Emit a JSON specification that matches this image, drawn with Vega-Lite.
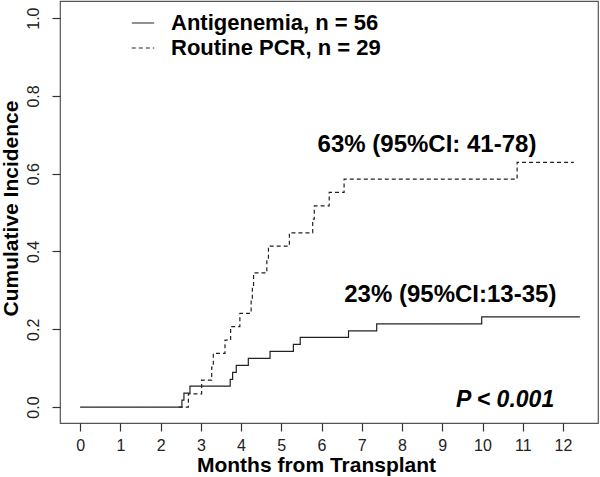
{
  "$schema": "https://vega.github.io/schema/vega-lite/v6.json",
  "width": 538,
  "height": 422,
  "autosize": {"type": "none"},
  "padding": {"left": 60, "top": 1, "right": 2, "bottom": 54},
  "background": "white",
  "config": {
    "view": {"stroke": "#555", "strokeWidth": 1.2},
    "font": "Liberation Sans"
  },
  "datasets": {
    "curves": [
      {"group": "Antigenemia, n = 56", "month": 0, "ci": 0},
      {"group": "Antigenemia, n = 56", "month": 2.53, "ci": 0.018},
      {"group": "Antigenemia, n = 56", "month": 2.58, "ci": 0.036},
      {"group": "Antigenemia, n = 56", "month": 2.73, "ci": 0.054},
      {"group": "Antigenemia, n = 56", "month": 3.73, "ci": 0.071},
      {"group": "Antigenemia, n = 56", "month": 3.79, "ci": 0.089},
      {"group": "Antigenemia, n = 56", "month": 3.88, "ci": 0.107},
      {"group": "Antigenemia, n = 56", "month": 4.18, "ci": 0.125},
      {"group": "Antigenemia, n = 56", "month": 4.72, "ci": 0.143},
      {"group": "Antigenemia, n = 56", "month": 5.30, "ci": 0.161},
      {"group": "Antigenemia, n = 56", "month": 5.47, "ci": 0.179},
      {"group": "Antigenemia, n = 56", "month": 6.67, "ci": 0.196},
      {"group": "Antigenemia, n = 56", "month": 7.37, "ci": 0.214},
      {"group": "Antigenemia, n = 56", "month": 9.98, "ci": 0.232},
      {"group": "Antigenemia, n = 56", "month": 12.42, "ci": 0.232},
      {"group": "Routine PCR, n = 29", "month": 2.45, "ci": 0},
      {"group": "Routine PCR, n = 29", "month": 2.69, "ci": 0.034},
      {"group": "Routine PCR, n = 29", "month": 3.02, "ci": 0.069},
      {"group": "Routine PCR, n = 29", "month": 3.27, "ci": 0.103},
      {"group": "Routine PCR, n = 29", "month": 3.31, "ci": 0.138},
      {"group": "Routine PCR, n = 29", "month": 3.60, "ci": 0.172},
      {"group": "Routine PCR, n = 29", "month": 3.74, "ci": 0.207},
      {"group": "Routine PCR, n = 29", "month": 3.97, "ci": 0.241},
      {"group": "Routine PCR, n = 29", "month": 4.25, "ci": 0.276},
      {"group": "Routine PCR, n = 29", "month": 4.28, "ci": 0.310},
      {"group": "Routine PCR, n = 29", "month": 4.31, "ci": 0.345},
      {"group": "Routine PCR, n = 29", "month": 4.64, "ci": 0.379},
      {"group": "Routine PCR, n = 29", "month": 4.68, "ci": 0.414},
      {"group": "Routine PCR, n = 29", "month": 5.20, "ci": 0.448},
      {"group": "Routine PCR, n = 29", "month": 5.78, "ci": 0.483},
      {"group": "Routine PCR, n = 29", "month": 5.82, "ci": 0.517},
      {"group": "Routine PCR, n = 29", "month": 6.19, "ci": 0.552},
      {"group": "Routine PCR, n = 29", "month": 6.56, "ci": 0.586},
      {"group": "Routine PCR, n = 29", "month": 10.86, "ci": 0.629},
      {"group": "Routine PCR, n = 29", "month": 12.27, "ci": 0.629}
    ],
    "notes": [
      {"label": "63% (95%CI: 41-78)", "month": 8.62, "ci": 0.655},
      {"label": "23% (95%CI:13-35)", "month": 9.2, "ci": 0.27}
    ],
    "pval": [
      {"label": "P < 0.001", "month": 10.56, "ci": 0.0}
    ]
  },
  "layer": [
    {
      "data": {"name": "curves"},
      "mark": {"type": "line", "interpolate": "step-after", "color": "#222", "strokeWidth": 1.2},
      "encoding": {
        "x": {
          "field": "month", "type": "quantitative",
          "scale": {"domain": [-0.5, 12.87], "nice": false, "zero": false},
          "axis": {
            "title": "Months from Transplant",
            "values": [0,1,2,3,4,5,6,7,8,9,10,11,12],
            "domain": false, "grid": false,
            "tickSize": 8, "tickColor": "#333", "tickWidth": 1.2,
            "labelFontSize": 16, "labelColor": "#222", "labelPadding": 6, "labelFlush": false,
            "titleFontSize": 21, "titleFontWeight": "bold", "titleColor": "#000",
            "titleX": 256, "titleY": 42, "titleBaseline": "middle", "titleAlign": "center"
          }
        },
        "y": {
          "field": "ci", "type": "quantitative",
          "scale": {"domain": [-0.041, 1.044], "nice": false, "zero": false},
          "axis": {
            "title": "Cumulative Incidence",
            "values": [0, 0.2, 0.4, 0.6, 0.8, 1.0],
            "format": ".1f",
            "domain": false, "grid": false,
            "tickSize": 8, "tickColor": "#333", "tickWidth": 1.2,
            "labelFontSize": 16, "labelColor": "#222", "labelAngle": -90,
            "labelAlign": "center", "labelBaseline": "alphabetic", "labelPadding": 14,
            "titleFontSize": 21, "titleFontWeight": "bold", "titleColor": "#000",
            "titleAngle": -90, "titleX": -49, "titleY": 207, "titleBaseline": "middle", "titleAlign": "center"
          }
        },
        "strokeDash": {
          "field": "group", "type": "nominal",
          "scale": {"domain": ["Antigenemia, n = 56", "Routine PCR, n = 29"], "range": [[1, 0], [4, 3]]},
          "legend": {
            "title": null,
            "orient": "none", "legendX": 71, "legendY": 10,
            "padding": 0,
            "symbolType": "stroke", "symbolSize": 500, "symbolStrokeWidth": 1.1,
            "symbolStrokeColor": "#222",
            "labelFontSize": 22, "labelFontWeight": "bold", "labelColor": "#000",
            "labelOffset": 16, "rowPadding": 2,
            "labelLimit": 400
          }
        }
      }
    },
    {
      "data": {"name": "notes"},
      "mark": {"type": "text", "fontSize": 24, "fontWeight": "bold", "align": "center", "baseline": "alphabetic", "color": "#000"},
      "encoding": {
        "x": {"field": "month", "type": "quantitative"},
        "y": {"field": "ci", "type": "quantitative"},
        "text": {"field": "label"}
      }
    },
    {
      "data": {"name": "pval"},
      "mark": {"type": "text", "fontSize": 23, "fontWeight": "bold", "fontStyle": "italic", "align": "center", "baseline": "alphabetic", "color": "#000"},
      "encoding": {
        "x": {"field": "month", "type": "quantitative"},
        "y": {"field": "ci", "type": "quantitative"},
        "text": {"field": "label"}
      }
    }
  ]
}
